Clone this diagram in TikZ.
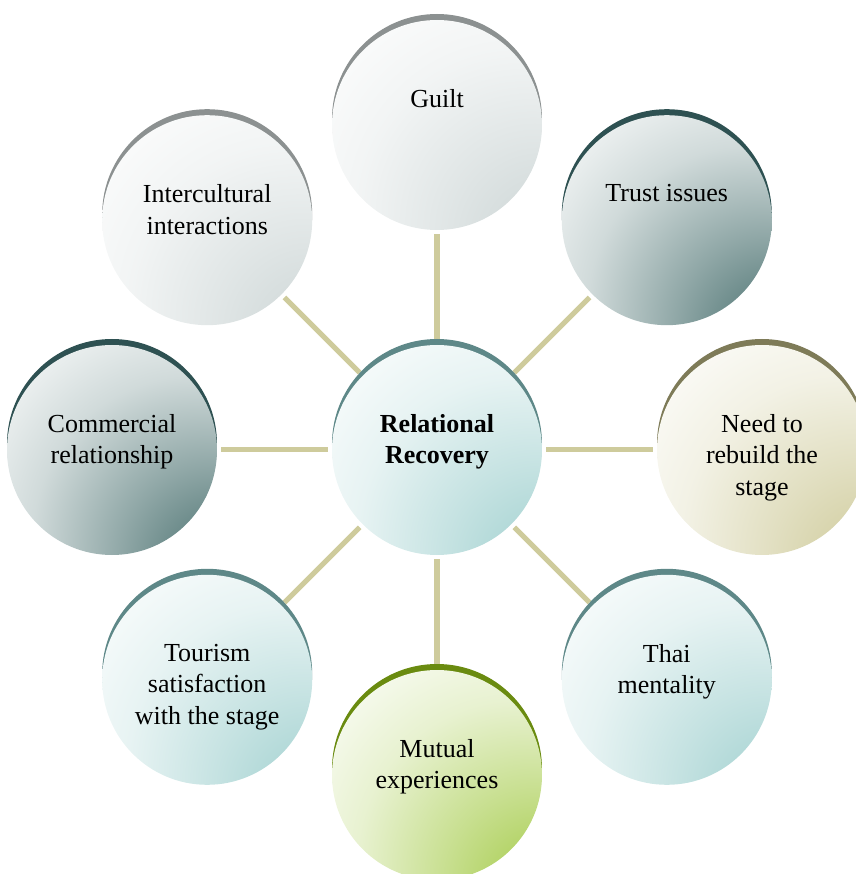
\documentclass[tikz,border=0pt]{standalone}
\usepackage{fontspec}
\setmainfont{Liberation Serif}
\usetikzlibrary{shadows, backgrounds}

\definecolor{grayrim}{HTML}{8C9191}
\definecolor{grayfill}{HTML}{CDD6D6}
\definecolor{slaterim}{HTML}{2E5152}
\definecolor{slatefill}{HTML}{4C7271}
\definecolor{oliverim}{HTML}{7E7B58}
\definecolor{olivefill}{HTML}{CFCB9B}
\definecolor{tealrim}{HTML}{5E8888}
\definecolor{tealfill}{HTML}{A2D1D0}
\definecolor{greenrim}{HTML}{6A8B10}
\definecolor{greenfill}{HTML}{A5CB4A}
\definecolor{spoke}{HTML}{CECB9C}

\newcommand{\bubbleshade}[1]{%
  \pgfdeclareradialshading{#1shade}{\pgfpoint{31bp}{-33bp}}{%
    color(0bp)=(#1fill); color(6bp)=(#1fill); color(22bp)=(#1fill!62!white);
    color(38bp)=(#1fill!26!white); color(57bp)=(white); color(100bp)=(white)}}
\bubbleshade{gray}
\bubbleshade{slate}
\bubbleshade{olive}
\bubbleshade{teal}
\bubbleshade{green}

\tikzstyle{bubble} = [circle, minimum size=5.25cm, inner sep=0pt, shade]
\tikzstyle{graybubble} = [bubble, shading=grayshade, general shadow={fill=grayrim, shadow yshift=0.15cm}]
\tikzstyle{slatebubble} = [bubble, shading=slateshade, general shadow={fill=slaterim, shadow yshift=0.15cm}]
\tikzstyle{olivebubble} = [bubble, shading=oliveshade, general shadow={fill=oliverim, shadow yshift=0.15cm}]
\tikzstyle{tealbubble} = [bubble, shading=tealshade, general shadow={fill=tealrim, shadow yshift=0.15cm}]
\tikzstyle{greenbubble} = [bubble, shading=greenshade, general shadow={fill=greenrim, shadow yshift=0.15cm}]
\tikzstyle{txt} = [align=center, inner sep=0pt, anchor=north, font=\fontsize{18.5}{22.5}\selectfont]
\tikzstyle{spokeline} = [line width=0.125cm, draw=spoke, shorten <=0.1cm, shorten >=0.1cm]

\begin{document}
\begin{tikzpicture}
    \useasboundingbox (-10.925,-10.6) rectangle (10.475,11.25);
    \clip (-10.925,-10.6) rectangle (10.475,11.25);

    %centre and the eight bubbles round it
    \node (rr) [tealbubble] at (0,0) {};
    \node (guilt) [graybubble] at (90:8.125) {};
    \node (trust) [slatebubble] at (45:8.125) {};
    \node (rebuild) [olivebubble] at (0:8.125) {};
    \node (thai) [tealbubble] at (-45:8.125) {};
    \node (mutual) [greenbubble] at (-90:8.125) {};
    \node (tourism) [tealbubble] at (-135:8.125) {};
    \node (commercial) [slatebubble] at (180:8.125) {};
    \node (intercult) [graybubble] at (135:8.125) {};

    %texts
    \node (rr-t) [txt] at ([yshift=0.9cm]rr.center) {\bfseries Relational\\\bfseries Recovery};
    \node (guilt-t) [txt] at ([yshift=0.9cm]guilt.center) {Guilt};
    \node (trust-t) [txt] at ([yshift=0.9cm]trust.center) {Trust issues};
    \node (rebuild-t) [txt] at ([yshift=0.9cm]rebuild.center) {Need to\\rebuild the\\stage};
    \node (thai-t) [txt] at ([yshift=0.9cm]thai.center) {Thai\\mentality};
    \node (mutual-t) [txt] at ([yshift=0.9cm]mutual.center) {Mutual\\experiences};
    \node (tourism-t) [txt] at ([yshift=0.9cm]tourism.center) {Tourism\\satisfaction\\with the stage};
    \node (commercial-t) [txt] at ([yshift=0.9cm]commercial.center) {Commercial\\relationship};
    \node (intercult-t) [txt] at ([yshift=0.9cm]intercult.center) {Intercultural\\interactions};

    %spokes
    \begin{scope}[on background layer]
    \draw [spokeline] (rr) -- (guilt);
    \draw [spokeline] (rr) -- (trust);
    \draw [spokeline] (rr) -- (rebuild);
    \draw [spokeline] (rr) -- (thai);
    \draw [spokeline] (rr) -- (mutual);
    \draw [spokeline] (rr) -- (tourism);
    \draw [spokeline] (rr) -- (commercial);
    \draw [spokeline] (rr) -- (intercult);
    \end{scope}
\end{tikzpicture}
\end{document}
